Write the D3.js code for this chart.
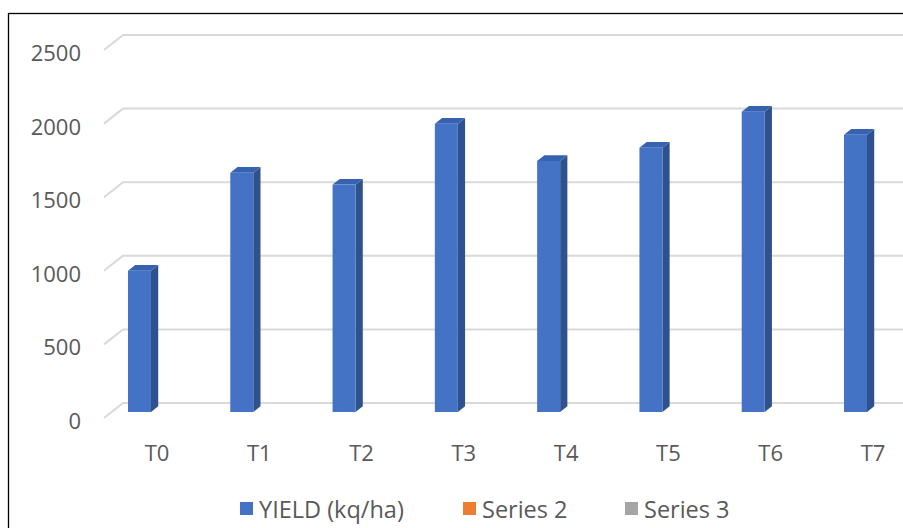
<!DOCTYPE html>
<html>
<head>
<meta charset="utf-8">
<script src="https://cdn.jsdelivr.net/npm/d3@7"></script>
<style>
  html, body { margin: 0; padding: 0; background: #fff; }
  svg { display: block; }
  text { font-family: "Open Sans", "Noto Sans", sans-serif; }
</style>
</head>
<body>
<svg id="chart" width="903" height="528"></svg>
<script>
// Yield per treatment
const categories = ["T0", "T1", "T2", "T3", "T4", "T5", "T6", "T7"];
const yieldValues = [960, 1625, 1545, 1958, 1706, 1795, 2040, 1883];
const yTicks = [0, 500, 1000, 1500, 2000, 2500];
const seriesNames = ["YIELD (kq/ha)", "Series 2", "Series 3"];
const seriesColors = ["#4472C4", "#ED7D31", "#A5A5A5"];

const svg = d3.select("#chart");
const W = 903, H = 528;

// Outer frame
svg.append("rect")
  .attr("x", 8.5).attr("y", 13.5)
  .attr("width", W + 10).attr("height", H + 10)
  .attr("fill", "none").attr("stroke", "#000").attr("stroke-width", 1.3);

// Value scale on the front plane of the 3D box
const y = d3.scaleLinear().domain([0, 2500]).range([418, 50]);
// Oblique depth: full depth of the floor
const depthDX = 19, depthDY = -15;
const frontX = 104;
const barD0 = 0.4, barD1 = 0.78;

// Category centres on the bars' front faces
const x = d3.scalePoint().domain(categories).range([139.5, 855.5]);
const barW = 23;

// Gridlines: short diagonal on the side wall, then along the back wall
const grid = svg.append("g");
yTicks.forEach(t => {
  const yf = y(t);
  grid.append("path")
    .attr("d", d3.line()([
      [frontX, yf],
      [frontX + depthDX, yf + depthDY],
      [W + 5, yf + depthDY]
    ]))
    .attr("fill", "none")
    .attr("stroke", "#d9d9d9")
    .attr("stroke-width", 2);
});

// Y tick labels
svg.append("g").selectAll("text")
  .data(yTicks).join("text")
  .attr("x", 81)
  .attr("y", d => y(d) + 2)
  .attr("text-anchor", "end")
  .attr("dominant-baseline", "central")
  .attr("font-size", 22)
  .attr("fill", "#595959")
  .text(d => d);

// Bars as oblique prisms
const ox0 = barD0 * depthDX, oy0 = barD0 * depthDY;
const bdx = (barD1 - barD0) * depthDX, bdy = (barD1 - barD0) * depthDY;
const bars = svg.append("g");
categories.forEach((c, i) => {
  const v = yieldValues[i];
  const xl = x(c) - barW / 2, xr = x(c) + barW / 2;
  const yt = y(v) + oy0, yb = y(0) + oy0;
  const g = bars.append("g");
  // side face
  g.append("path")
    .attr("d", d3.line()([[xr, yt], [xr + bdx, yt + bdy], [xr + bdx, yb + bdy], [xr, yb]]) + "Z")
    .attr("fill", "#2F528F");
  // top face
  g.append("path")
    .attr("d", d3.line()([[xl, yt], [xl + bdx, yt + bdy], [xr + bdx, yt + bdy], [xr, yt]]) + "Z")
    .attr("fill", "#3762B0");
  // front face
  g.append("rect")
    .attr("x", xl).attr("y", yt)
    .attr("width", barW).attr("height", yb - yt)
    .attr("fill", "#4472C4");
});

// Category labels
svg.append("g").selectAll("text")
  .data(categories).join("text")
  .attr("x", d => x(d) + 17.5)
  .attr("y", 452)
  .attr("text-anchor", "middle")
  .attr("dominant-baseline", "central")
  .attr("font-size", 22)
  .attr("fill", "#595959")
  .text(d => d);

// Legend
const legendX = [240, 463, 625];
const legend = svg.append("g");
seriesNames.forEach((name, i) => {
  legend.append("rect")
    .attr("x", legendX[i]).attr("y", 502)
    .attr("width", 13).attr("height", 13)
    .attr("fill", seriesColors[i]);
  legend.append("text")
    .attr("x", legendX[i] + 19)
    .attr("y", 508.5)
    .attr("dominant-baseline", "central")
    .attr("font-size", 23.5)
    .attr("fill", "#595959")
    .text(name);
});
</script>
</body>
</html>
